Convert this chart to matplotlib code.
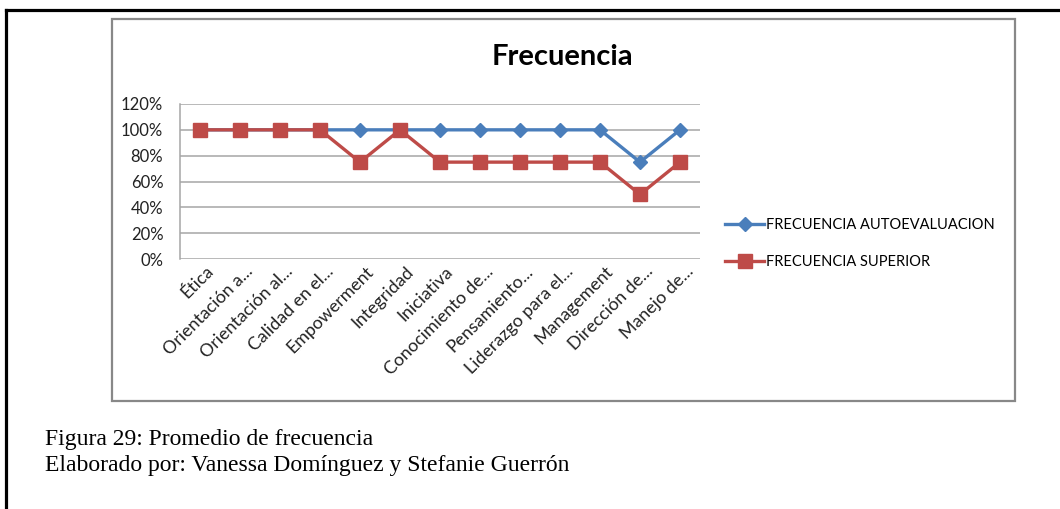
import matplotlib
matplotlib.use("Agg")
import matplotlib.pyplot as plt
import matplotlib.transforms as mtransforms
from matplotlib.lines import Line2D
from matplotlib.patches import Rectangle

# competencias evaluadas (etiquetas recortadas como en el informe)
categorias = ["Ética", "Orientación a...", "Orientación al...", "Calidad en el...",
              "Empowerment", "Integridad", "Iniciativa", "Conocimiento de...",
              "Pensamiento...", "Liderazgo para el...", "Management",
              "Dirección de...", "Manejo de..."]
autoevaluacion = [1.00, 1.00, 1.00, 1.00, 1.00, 1.00, 1.00, 1.00, 1.00, 1.00, 1.00, 0.75, 1.00]
superior = [1.00, 1.00, 1.00, 1.00, 0.75, 1.00, 0.75, 0.75, 0.75, 0.75, 0.75, 0.50, 0.75]
y_ticks = [0, 0.2, 0.4, 0.6, 0.8, 1.0, 1.2]

W, H = 1060, 509
fig = plt.figure(figsize=(W / 100, H / 100), dpi=100)
fig.patch.set_facecolor("white")

# helper: pixel box -> figure fraction
def px(x0, y0, x1, y1):
    return [x0 / W, 1 - y1 / H, (x1 - x0) / W, (y1 - y0) / H]

# marco de la pagina (solo borde superior e izquierdo)
fig.add_artist(Line2D([6 / W, 1], [1 - 10 / H, 1 - 10 / H], color="black", lw=2.3,
                      transform=fig.transFigure))
fig.add_artist(Line2D([6 / W, 6 / W], [0, 1 - 10 / H], color="black", lw=2.3,
                      transform=fig.transFigure))

# recuadro del grafico
fig.add_artist(Rectangle((112 / W, 1 - 401 / H), (1015 - 112) / W, (401 - 19) / H,
                         transform=fig.transFigure, fill=False, edgecolor="#888888", lw=1.6))

font = "Lato"
ax = fig.add_axes(px(180, 104, 700, 259))
x = range(len(categorias))
ax.plot(x, autoevaluacion, color="#4A7EBB", lw=2.4, marker="D", ms=7,
        label="FRECUENCIA AUTOEVALUACION", zorder=3)
ax.plot(x, superior, color="#BE4B48", lw=2.4, marker="s", ms=9.5,
        label="FRECUENCIA SUPERIOR", zorder=4)

ax.set_xlim(-0.5, len(categorias) - 0.5)
ax.set_ylim(0, 1.2)
ax.set_yticks(y_ticks)
ax.set_yticklabels([f"{int(round(v * 100))}%" for v in y_ticks], fontfamily=font, fontsize=12)
ax.set_xticks(list(x))
ax.set_xticklabels(categorias, rotation=45, ha="right", rotation_mode="anchor",
                   fontfamily=font, fontsize=12.8)
ax.tick_params(axis="y", length=0, pad=12, colors="#222222")
ax.tick_params(axis="x", length=0, pad=3, colors="#222222")
# nudge the rotated labels a bit to the right
shift = mtransforms.ScaledTranslation(5 / 100, 0, fig.dpi_scale_trans)
for lbl in ax.get_xticklabels():
    lbl.set_transform(lbl.get_transform() + shift)
ax.grid(axis="y", color="#A6A6A6", lw=1.1)
ax.set_axisbelow(True)
for s in ["top", "right", "bottom"]:
    ax.spines[s].set_visible(False)
ax.spines["left"].set_color("#A6A6A6")
ax.spines["left"].set_linewidth(1.1)

fig.text(562 / W, 1 - 57 / H, "Frecuencia", ha="center", va="center",
         fontfamily=font, fontweight="bold", fontsize=21)

fig.legend(loc="upper left", bbox_to_anchor=(725 / W, 1 - 218 / H), frameon=False,
           prop={"family": font, "size": 10.5}, handlelength=2.7, handletextpad=0.1,
           labelspacing=1.55, borderpad=0, borderaxespad=0)

fig.text(45 / W, 1 - 440 / H, "Figura 29: Promedio de frecuencia", ha="left", va="center",
         fontfamily="Liberation Serif", fontsize=17)
fig.text(45 / W, 1 - 465 / H, "Elaborado por: Vanessa Domínguez y Stefanie Guerrón",
         ha="left", va="center", fontfamily="Liberation Serif", fontsize=17)

fig.savefig("out.png", dpi=100)
